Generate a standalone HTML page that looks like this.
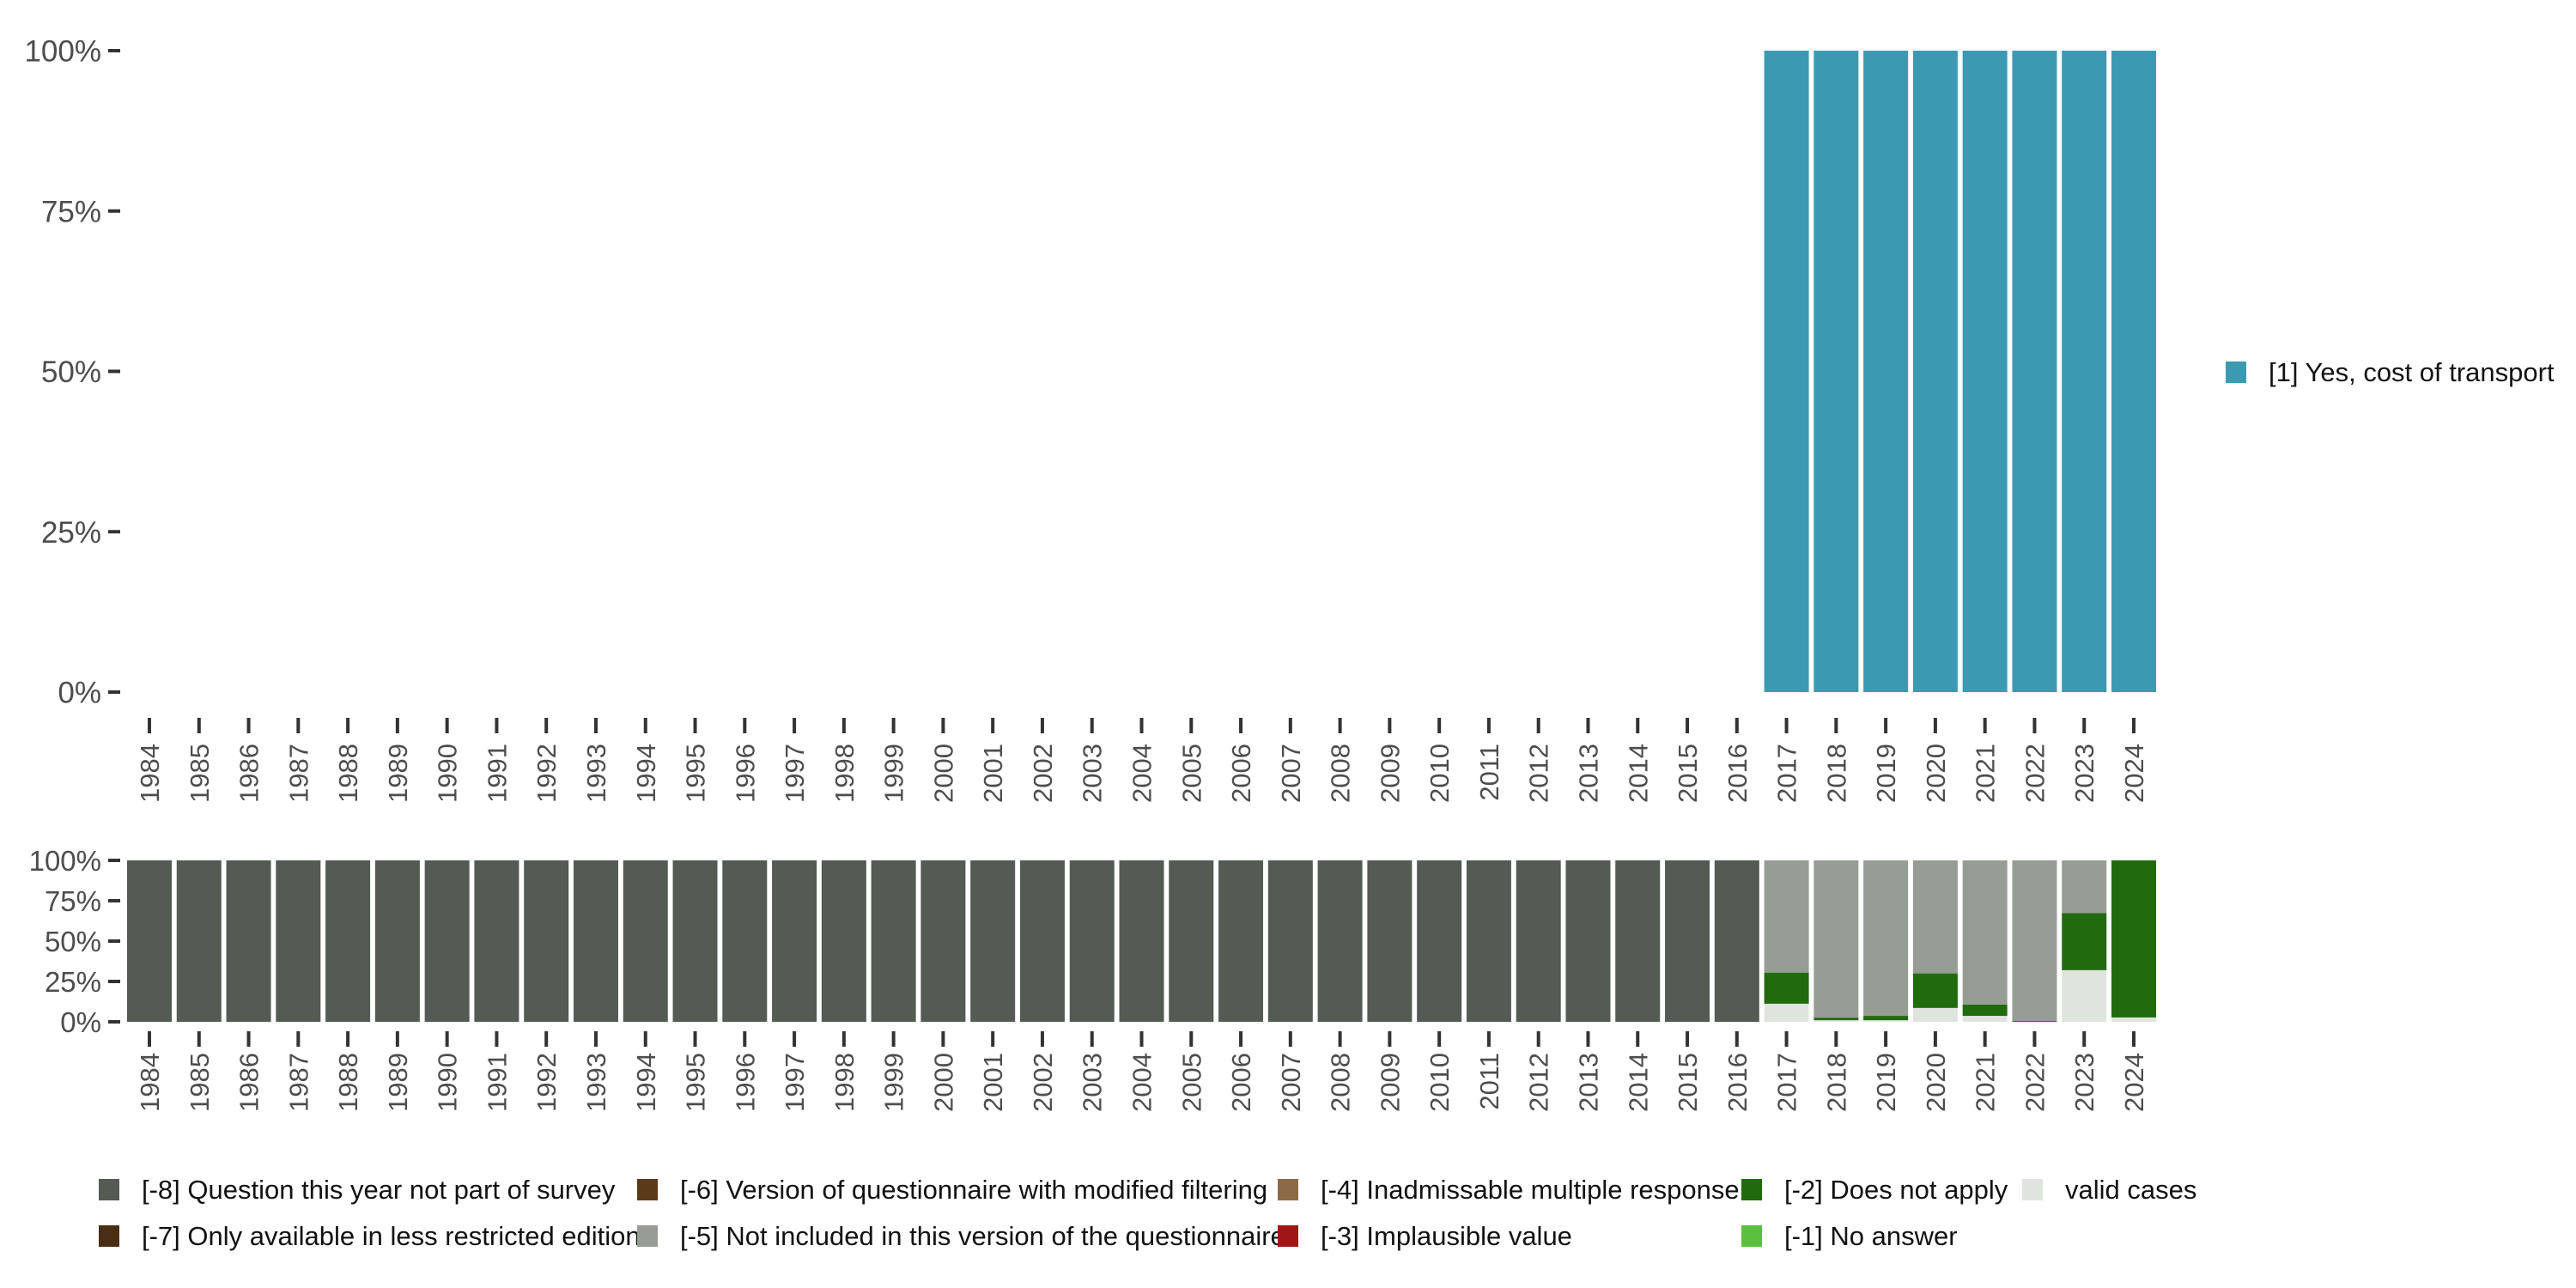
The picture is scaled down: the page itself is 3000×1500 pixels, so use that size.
<!DOCTYPE html>
<html><head><meta charset="utf-8"><style>
html,body{margin:0;padding:0;background:#fff;width:3000px;height:1500px;overflow:hidden}
svg text{font-family:"Liberation Sans","DejaVu Sans",sans-serif}
</style></head><body>
<svg id="chart" width="3000" height="1500" xmlns="http://www.w3.org/2000/svg"></svg>
<script>
const years=[];for(let y=1984;y<=2024;y++)years.push(String(y));
const topYes=[0,0,0,0,0,0,0,0,0,0,0,0,0,0,0,0,0,0,0,0,0,0,0,0,0,0,0,0,0,0,0,0,0,100,100,100,100,100,100,100,100];
// bottom panel series (stacked from bottom): valid, -2, -5, -8
const valid=[0,0,0,0,0,0,0,0,0,0,0,0,0,0,0,0,0,0,0,0,0,0,0,0,0,0,0,0,0,0,0,0,0,11.2,1,1,8.6,3.7,0,32,2.7];
const dna=[0,0,0,0,0,0,0,0,0,0,0,0,0,0,0,0,0,0,0,0,0,0,0,0,0,0,0,0,0,0,0,0,0,19.3,1.6,2.7,21.4,7,0.5,35.3,97.3];
const notIncl=[0,0,0,0,0,0,0,0,0,0,0,0,0,0,0,0,0,0,0,0,0,0,0,0,0,0,0,0,0,0,0,0,0,69.5,97.4,96.3,70,89.3,99.5,32.7,0];
const notPart=[100,100,100,100,100,100,100,100,100,100,100,100,100,100,100,100,100,100,100,100,100,100,100,100,100,100,100,100,100,100,100,100,100,0,0,0,0,0,0,0,0];
const yTicks=[0,25,50,75,100];
const yTickLabels=["0%","25%","50%","75%","100%"];

const NS="http://www.w3.org/2000/svg";
const svg=document.getElementById('chart');
function el(t,a,p){const e=document.createElementNS(NS,t);for(const k in a)e.setAttribute(k,a[k]);(p||svg).appendChild(e);return e;}
const x0=174,step=(2485-174)/40,bw=52;
const xc=i=>x0+i*step;
function yTop(v){return 806-(806-59)*v/100;}
function yBot(v){return 1190-(1190-1002)*v/100;}

function axes(yf,tickY,labY,fs,name){
  const g=el('g',{});
  
  
  yTicks.forEach((v,i)=>{
    el('line',{x1:126,x2:140,y1:yf(v),y2:yf(v),stroke:'#333','stroke-width':4},g);
    const t=el('text',{x:118,y:yf(v)+fs*0.36,'text-anchor':'end','font-size':fs,fill:'#4d4d4d'},g);
    t.textContent=yTickLabels[i];
    
    
  });
  years.forEach((yr,i)=>{
    el('line',{x1:xc(i),x2:xc(i),y1:tickY,y2:tickY+18,stroke:'#333','stroke-width':4},g);
    const t=el('text',{x:0,y:0,'text-anchor':'end','font-size':31,fill:'#4d4d4d',transform:`translate(${xc(i)+11},${labY}) rotate(-90)`},g);
    t.textContent=yr;
    
    
  });
}
axes(yTop,836,866,35,'top');
axes(yBot,1201,1226,33,'bottom');

// top bars
years.forEach((yr,i)=>{
  if(topYes[i]>0){
    const r=el('rect',{x:xc(i)-bw/2,y:yTop(topYes[i]),width:bw,height:yTop(0)-yTop(topYes[i]),fill:'#3b9ab2'});
    
    
  }
});
// bottom stacked
const series=[[valid,'#e0e4df','valid'],[dna,'#216b0e','does-not-apply'],[notIncl,'#979c95','not-included'],[notPart,'#545a54','not-part']];
years.forEach((yr,i)=>{
  let acc=0;
  series.forEach(s=>{
    const v=s[0][i];if(v<=0)return;
    const r=el('rect',{x:xc(i)-bw/2,y:yBot(acc+v),width:bw,height:yBot(acc)-yBot(acc+v),fill:s[1]});
    
    
    acc+=v;
  });
});

// right legend
const lg=el('g',{});


el('rect',{x:2592,y:421,width:24,height:25,fill:'#3b9ab2'},lg);
const lt=el('text',{x:2642,y:444,'font-size':31,fill:'#111'},lg);lt.textContent='[1] Yes, cost of transport';

// bottom legend
const items=[
 [115,1385,'#545a54','[-8] Question this year not part of survey'],
 [742,1385,'#5a3a18','[-6] Version of questionnaire with modified filtering'],
 [1488,1385,'#8c6a48','[-4] Inadmissable multiple response'],
 [2028,1385,'#216b0e','[-2] Does not apply'],
 [2355,1385,'#e0e4df','valid cases'],
 [115,1439,'#4a2e14','[-7] Only available in less restricted edition'],
 [742,1439,'#979c95','[-5] Not included in this version of the questionnaire'],
 [1488,1439,'#a01616','[-3] Implausible value'],
 [2028,1439,'#5bbf3f','[-1] No answer']];
const bl=el('g',{});


items.forEach(it=>{
  const g=el('g',{},bl);
  
  
  el('rect',{x:it[0],y:it[1]-12,width:24,height:25,fill:it[2]},g);
  const t=el('text',{x:it[0]+50,y:it[1]+11,'font-size':31,fill:'#111'},g);t.textContent=it[3];
});
</script>
</body></html>
